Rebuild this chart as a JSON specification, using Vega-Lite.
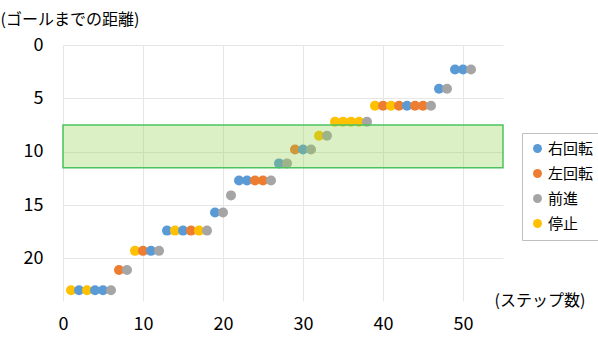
{
  "$schema": "https://vega.github.io/schema/vega-lite/v6.json",
  "width": 440,
  "height": 256,
  "autosize": "none",
  "padding": {"left": 63, "top": 45, "right": 95, "bottom": 42},
  "background": "white",
  "config": {
    "font": "Noto Sans CJK JP",
    "view": {"stroke": null}
  },
  "datasets": {
    "pts": [
      {"step": 1, "dist": 23, "action": "停止"},
      {"step": 2, "dist": 23, "action": "右回転"},
      {"step": 3, "dist": 23, "action": "停止"},
      {"step": 4, "dist": 23, "action": "右回転"},
      {"step": 5, "dist": 23, "action": "右回転"},
      {"step": 6, "dist": 23, "action": "前進"},
      {"step": 7, "dist": 21.1, "action": "左回転"},
      {"step": 8, "dist": 21.1, "action": "前進"},
      {"step": 9, "dist": 19.3, "action": "停止"},
      {"step": 10, "dist": 19.3, "action": "左回転"},
      {"step": 11, "dist": 19.3, "action": "右回転"},
      {"step": 12, "dist": 19.3, "action": "前進"},
      {"step": 13, "dist": 17.4, "action": "右回転"},
      {"step": 14, "dist": 17.4, "action": "停止"},
      {"step": 15, "dist": 17.4, "action": "右回転"},
      {"step": 16, "dist": 17.4, "action": "左回転"},
      {"step": 17, "dist": 17.4, "action": "停止"},
      {"step": 18, "dist": 17.4, "action": "前進"},
      {"step": 19, "dist": 15.7, "action": "右回転"},
      {"step": 20, "dist": 15.7, "action": "前進"},
      {"step": 21, "dist": 14.1, "action": "前進"},
      {"step": 22, "dist": 12.7, "action": "右回転"},
      {"step": 23, "dist": 12.7, "action": "右回転"},
      {"step": 24, "dist": 12.7, "action": "左回転"},
      {"step": 25, "dist": 12.7, "action": "左回転"},
      {"step": 26, "dist": 12.7, "action": "前進"},
      {"step": 27, "dist": 11.1, "action": "右回転"},
      {"step": 28, "dist": 11.1, "action": "前進"},
      {"step": 29, "dist": 9.8, "action": "左回転"},
      {"step": 30, "dist": 9.8, "action": "右回転"},
      {"step": 31, "dist": 9.8, "action": "前進"},
      {"step": 32, "dist": 8.5, "action": "停止"},
      {"step": 33, "dist": 8.5, "action": "前進"},
      {"step": 34, "dist": 7.2, "action": "停止"},
      {"step": 35, "dist": 7.2, "action": "停止"},
      {"step": 36, "dist": 7.2, "action": "停止"},
      {"step": 37, "dist": 7.2, "action": "停止"},
      {"step": 38, "dist": 7.2, "action": "前進"},
      {"step": 39, "dist": 5.7, "action": "停止"},
      {"step": 40, "dist": 5.7, "action": "左回転"},
      {"step": 41, "dist": 5.7, "action": "停止"},
      {"step": 42, "dist": 5.7, "action": "左回転"},
      {"step": 43, "dist": 5.7, "action": "右回転"},
      {"step": 44, "dist": 5.7, "action": "左回転"},
      {"step": 45, "dist": 5.7, "action": "左回転"},
      {"step": 46, "dist": 5.7, "action": "前進"},
      {"step": 47, "dist": 4.1, "action": "右回転"},
      {"step": 48, "dist": 4.1, "action": "前進"},
      {"step": 49, "dist": 2.3, "action": "右回転"},
      {"step": 50, "dist": 2.3, "action": "右回転"},
      {"step": 51, "dist": 2.3, "action": "前進"}
    ],
    "band": [
      {"x0": 0, "x1": 55, "y0": 7.5, "y1": 11.5}
    ]
  },
  "layer": [
    {
      "data": {"name": "pts"},
      "mark": {"type": "point", "filled": true, "opacity": 1, "size": 100},
      "encoding": {
        "x": {
          "field": "step", "type": "quantitative",
          "scale": {"domain": [0, 55], "nice": false, "zero": false},
          "axis": {
            "values": [0, 10, 20, 30, 40, 50],
            "title": "(ステップ数)",
            "titleAngle": 0,
            "titleAlign": "left",
            "titleBaseline": "middle",
            "titleX": 431,
            "titleY": -1,
            "titleFontSize": 16,
            "titleFontWeight": "normal",
            "titleColor": "#000000",
            "labelFontSize": 18,
            "labelColor": "#000000",
            "labelPadding": 14,
            "ticks": false,
            "domain": false,
            "grid": true,
            "gridColor": "#e6e6e6",
            "labelFlush": false
          }
        },
        "y": {
          "field": "dist", "type": "quantitative",
          "scale": {"domain": [0, 24], "reverse": true, "nice": false, "zero": false},
          "axis": {
            "values": [0, 5, 10, 15, 20],
            "title": "(ゴールまでの距離)",
            "titleAngle": 0,
            "titleAlign": "left",
            "titleBaseline": "middle",
            "titleX": -63,
            "titleY": -26,
            "titleFontSize": 16,
            "titleFontWeight": "normal",
            "titleColor": "#000000",
            "labelFontSize": 18,
            "labelColor": "#000000",
            "labelPadding": 20,
            "ticks": false,
            "domain": false,
            "grid": true,
            "gridColor": "#e6e6e6",
            "labelFlush": false
          }
        },
        "color": {
          "field": "action", "type": "nominal",
          "scale": {
            "domain": ["右回転", "左回転", "前進", "停止"],
            "range": ["#5b9bd5", "#ed7d31", "#a5a5a5", "#ffc000"]
          },
          "legend": {
            "title": null,
            "orient": "none",
            "legendX": 459,
            "legendY": 88,
            "labelFontSize": 15,
            "labelColor": "#000000",
            "symbolType": "circle",
            "symbolSize": 80,
            "rowPadding": 9,
            "padding": 8,
            "strokeColor": "#bfbfbf",
            "fillColor": "white",
            "labelOffset": 3
          }
        }
      }
    },
    {
      "data": {"name": "band"},
      "mark": {"type": "rect", "fill": "#92d050", "fillOpacity": 0.33, "stroke": "#4cc35e", "strokeWidth": 1.5},
      "encoding": {
        "x": {"field": "x0", "type": "quantitative"},
        "x2": {"field": "x1"},
        "y": {"field": "y0", "type": "quantitative"},
        "y2": {"field": "y1"}
      }
    }
  ]
}
